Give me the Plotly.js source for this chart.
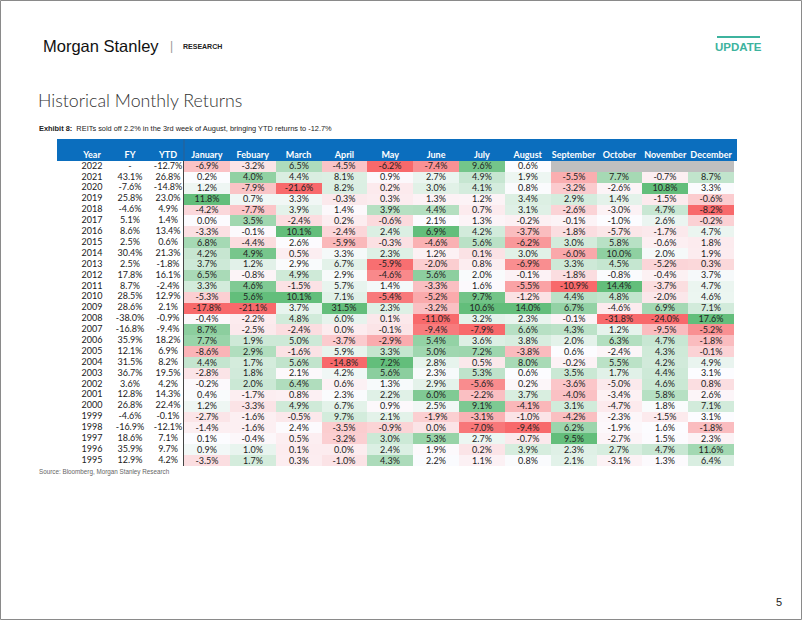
<!DOCTYPE html>
<html><head><meta charset="utf-8">
<script src="https://cdn.plot.ly/plotly-3.0.1.min.js"></script>
<style>html,body{margin:0;padding:0;background:#fff;}#chart{width:802px;height:620px;}</style>
</head><body><div id="chart"></div>
<script>
// ---------- DATA ----------
const years = ['2022','2021','2020','2019','2018','2017','2016','2015','2014','2013','2012','2011','2010','2009',
  '2008','2007','2006','2005','2004','2003','2002','2001','2000','1999','1998','1997','1996','1995'];
const months = ['January','Febuary','March','April','May','June','July','August','September','October','November','December'];
const fy  = [null,43.1,-7.6,25.8,-4.6,5.1,8.6,2.5,30.4,2.5,17.8,8.7,28.5,28.6,-38.0,-16.8,35.9,12.1,31.5,36.7,3.6,12.8,26.8,-4.6,-16.9,18.6,35.9,12.9];
const ytd = [-12.7,26.8,-14.8,23.0,4.9,1.4,13.4,0.6,21.3,-1.8,16.1,-2.4,12.9,2.1,-0.9,-9.4,18.2,6.9,8.2,19.5,4.2,14.3,22.4,-0.1,-12.1,7.1,9.7,4.2];
const jan = [-6.9,0.2,1.2,11.8,-4.2,0.0,-3.3,6.8,4.2,3.7,6.5,3.3,-5.3,-17.8,-0.4,8.7,7.7,-8.6,4.4,-2.8,-0.2,0.4,1.2,-2.7,-1.4,0.1,0.9,-3.5];
const feb = [-3.2,4.0,-7.9,0.7,-7.7,3.5,-0.1,-4.4,4.9,1.2,-0.8,4.6,5.6,-21.1,-2.2,-2.5,1.9,2.9,1.7,1.8,2.0,-1.7,-3.3,-1.6,-1.6,-0.4,1.0,1.7];
const mar = [6.5,4.4,-21.6,3.3,3.9,-2.4,10.1,2.6,0.5,2.9,4.9,-1.5,10.1,3.7,4.8,-2.4,5.0,-1.6,5.6,2.1,6.4,0.8,4.9,-0.5,2.4,0.5,0.1,0.3];
const apr = [-4.5,8.1,8.2,-0.3,1.4,0.2,-2.4,-5.9,3.3,6.7,2.9,5.7,7.1,31.5,6.0,0.0,-3.7,5.9,-14.8,4.2,0.6,2.3,6.7,9.7,-3.5,-3.2,0.0,-1.0];
const may = [-6.2,0.9,0.2,0.3,3.9,-0.6,2.4,-0.3,2.3,-5.9,-4.6,1.4,-5.4,2.3,0.1,-0.1,-2.9,3.3,7.2,5.6,1.3,2.2,0.9,2.1,-0.9,3.0,2.4,4.3];
const jun = [-7.4,2.7,3.0,1.3,4.4,2.1,6.9,-4.6,1.2,-2.0,5.6,-3.3,-5.2,-3.2,-11.0,-9.4,5.4,5.0,2.8,2.3,2.9,6.0,2.5,-1.9,0.0,5.3,1.9,2.2];
const jul = [9.6,4.9,4.1,1.2,0.7,1.3,4.2,5.6,0.1,0.8,2.0,1.6,9.7,10.6,3.2,-7.9,3.6,7.2,0.5,5.3,-5.6,-2.2,9.1,-3.1,-7.0,2.7,0.2,1.1];
const aug = [0.6,1.9,0.8,3.4,3.1,-0.2,-3.7,-6.2,3.0,-6.9,-0.1,-5.5,-1.2,14.0,2.3,6.6,3.8,-3.8,8.0,0.6,0.2,3.7,-4.1,-1.0,-9.4,-0.7,3.9,0.8];
const sep = [null,-5.5,-3.2,2.9,-2.6,-0.1,-1.8,3.0,-6.0,3.3,-1.8,-10.9,4.4,6.7,-0.1,4.3,2.0,0.6,-0.2,3.5,-3.6,-4.0,3.1,-4.2,6.2,9.5,2.3,2.1];
const oct = [null,7.7,-2.6,1.4,-3.0,-1.0,-5.7,5.8,10.0,4.5,-0.8,14.4,4.8,-4.6,-31.8,1.2,6.3,-2.4,5.5,1.7,-5.0,-3.4,-4.7,-2.3,-1.9,-2.7,2.7,-3.1];
const nov = [null,-0.7,10.8,-1.5,4.7,2.6,-1.7,-0.6,2.0,-5.2,-0.4,-3.7,-2.0,6.9,-24.0,-9.5,4.7,4.3,4.2,4.4,4.6,5.8,1.8,-1.5,1.6,1.5,4.7,1.3];
const dec = [null,8.7,3.3,-0.6,-8.2,-0.2,4.7,1.8,1.9,0.3,3.7,4.7,4.6,7.1,17.6,-5.2,-1.8,-0.1,4.9,3.1,0.8,2.6,7.1,3.1,-1.8,2.3,11.6,6.4];
const leftHeaders = ['Year','FY','YTD'];

// ---------- BUILD ----------
const cols = [jan,feb,mar,apr,may,jun,jul,aug,sep,oct,nov,dec];
function median(a){const s=a.slice().sort((x,y)=>x-y);const n=s.length;return n%2?s[(n-1)/2]:(s[n/2-1]+s[n/2])/2;}
const stats = cols.map(c=>{const v=c.filter(x=>x!==null);return {min:Math.min(...v),max:Math.max(...v),mid:median(v)};});
function norm(v,s){ if(v===null) return null;
  if(v<=s.mid) return s.mid===s.min?0.5:0.5*(v-s.min)/(s.mid-s.min);
  return s.max===s.mid?0.5:0.5+0.5*(v-s.mid)/(s.max-s.mid); }
const fmt = v => v===null ? '' : v.toFixed(1)+'%';
const z = years.map((y,i)=>cols.map((c,j)=>norm(c[i],stats[j])));
const txt = years.map((y,i)=>cols.map(c=>fmt(c[i])));
const zGray = years.map((y,i)=>cols.map(c=>c[i]===null?1:null));

const FONT = 'Lato, "Open Sans", sans-serif';
const SANS = '"Liberation Sans", Arial, sans-serif';
const W=802,H=620;
const px = x => x/W, py = y => 1-y/H;

const traces = [
  {type:'heatmap', x:months, y:years, z:z, text:txt, texttemplate:'%{text}',
   textfont:{family:FONT,size:9,color:'#222'}, zmin:0, zmax:1,
   colorscale:[[0,'#F8696B'],[0.5,'#FCFCFF'],[1,'#63BE7B']], showscale:false, hoverinfo:'skip', xgap:0, ygap:0},
  {type:'heatmap', x:months, y:years, z:zGray, zmin:0, zmax:1,
   colorscale:[[0,'#BFBFBF'],[1,'#BFBFBF']], showscale:false, hoverinfo:'skip'},
  {type:'scatter', mode:'text', xaxis:'x2', yaxis:'y', x:years.map(()=>leftHeaders[0]), y:years, text:years,
   textfont:{family:FONT,size:9,color:'#222'}, hoverinfo:'skip', showlegend:false},
  {type:'scatter', mode:'text', xaxis:'x2', yaxis:'y', x:years.map(()=>leftHeaders[1]), y:years, text:fy.map(v=>v===null?'-':fmt(v)),
   textfont:{family:FONT,size:9,color:'#222'}, hoverinfo:'skip', showlegend:false},
  {type:'scatter', mode:'text', xaxis:'x2', yaxis:'y', x:years.map(()=>leftHeaders[2]), y:years, text:ytd.map(fmt),
   textfont:{family:FONT,size:9,color:'#222'}, hoverinfo:'skip', showlegend:false}
];

const hdrFont = {family:FONT,size:9,color:'#ffffff',weight:'bold'};
const layout = {
  width:W, height:H, margin:{l:0,r:0,t:0,b:0}, paper_bgcolor:'#fff', plot_bgcolor:'rgba(0,0,0,0)',
  showlegend:false,
  xaxis:{type:'category', domain:[px(184),px(734)], anchor:'y', side:'top', ticks:'', showgrid:false, zeroline:false,
         showline:false, tickfont:hdrFont, ticklabelstandoff:0, fixedrange:true},
  xaxis2:{type:'category', domain:[px(57),px(184)], anchor:'y', side:'top', ticks:'', showgrid:false, zeroline:false,
         categoryorder:'array', categoryarray:leftHeaders, range:[-0.92,2.42],
         showline:false, tickfont:hdrFont, ticklabelstandoff:0, fixedrange:true},
  yaxis:{type:'category', domain:[py(466),py(161)], range:[years.length-0.5,-0.5], showticklabels:false, ticks:'',
         categoryorder:'array', categoryarray:years,
         showgrid:false, zeroline:false, showline:true, linecolor:'#444', linewidth:1, fixedrange:true},
  shapes:[
    {type:'rect', xref:'paper', yref:'paper', x0:px(57), x1:px(737), y0:py(161), y1:py(139), fillcolor:'#0B6EBE', line:{width:0}, layer:'below'},
    {type:'line', xref:'paper', yref:'paper', x0:px(184), x1:px(184), y0:py(161), y1:py(139), line:{color:'#2F5F8F',width:1}},
    {type:'line', xref:'paper', yref:'paper', x0:px(717), x1:px(760), y0:py(37), y1:py(37), line:{color:'#3DB39E',width:2}},
    {type:'rect', xref:'paper', yref:'paper', x0:0.5/W, x1:1-0.5/W, y0:0.5/H, y1:1-0.5/H, line:{color:'#8A8A8A',width:1}, fillcolor:'rgba(0,0,0,0)'}
  ],
  annotations:[
    {xref:'paper',yref:'paper',x:px(41),y:py(46),xanchor:'left',yanchor:'middle',showarrow:false,
     text:'Morgan Stanley', font:{family:SANS,size:16.5,color:'#111'}},
    {xref:'paper',yref:'paper',x:px(171),y:py(46),xanchor:'center',yanchor:'middle',showarrow:false,
     text:'|', font:{family:SANS,size:12,color:'#999'}},
    {xref:'paper',yref:'paper',x:px(181),y:py(46),xanchor:'left',yanchor:'middle',showarrow:false,
     text:'RESEARCH', font:{family:SANS,size:7,color:'#222',weight:'bold'}},
    {xref:'paper',yref:'paper',x:px(738.5),y:py(47),xanchor:'center',yanchor:'middle',showarrow:false,
     text:'UPDATE', font:{family:SANS,size:11.5,color:'#3DB39E',weight:'bold'}},
    {xref:'paper',yref:'paper',x:px(36),y:py(100),xanchor:'left',yanchor:'middle',showarrow:false,
     text:'Historical Monthly Returns', font:{family:FONT,size:17.8,color:'#333',weight:300}},
    {xref:'paper',yref:'paper',x:px(37),y:py(129),xanchor:'left',yanchor:'middle',showarrow:false,
     text:'<b>Exhibit 8:</b>  REITs sold off 2.2% in the 3rd week of August, bringing YTD returns to -12.7%',
     font:{family:SANS,size:7.4,color:'#222'}},
    {xref:'paper',yref:'paper',x:px(37),y:py(472),xanchor:'left',yanchor:'middle',showarrow:false,
     text:'Source: Bloomberg, Morgan Stanley Research', font:{family:SANS,size:6.3,color:'#666'}},
    {xref:'paper',yref:'paper',x:px(779),y:py(602),xanchor:'center',yanchor:'middle',showarrow:false,
     text:'5', font:{family:SANS,size:11,color:'#222'}}
  ]
};
Plotly.newPlot('chart', traces, layout, {displayModeBar:false, staticPlot:true});
</script></body></html>
